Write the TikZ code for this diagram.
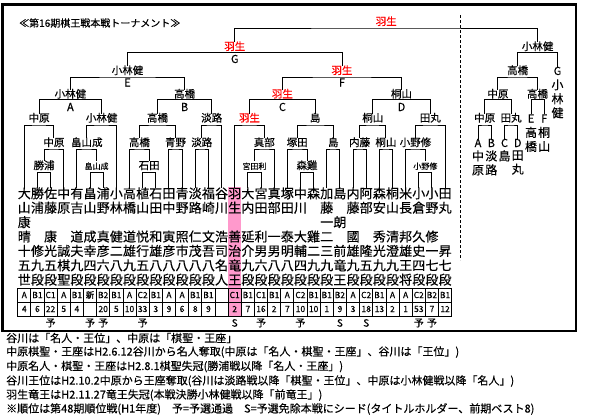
\documentclass[tikz,border=0pt]{standalone}
\usepackage{fontspec}
\setmainfont{Noto Sans CJK JP}[FakeBold=0.3]
\usetikzlibrary{positioning}
\definecolor{hlpink}{RGB}{255,153,204}

\begin{document}
\begin{tikzpicture}[x=1pt, y=-1pt,
  pl/.style={inner sep=0pt, text height=10pt, text depth=1.5pt, font=\fontsize{13}{13}\selectfont},
  win/.style={inner sep=0pt, text height=8pt, text depth=1.5pt, font=\fontsize{10.5}{11}\selectfont},
  winsm/.style={win, font=\fontsize{8}{9}\selectfont},
  hab/.style={win, text=red},
  letter/.style={inner sep=0pt, text height=8pt, text depth=0pt, font=\fontsize{11}{11}\selectfont},
  vtext/.style={inner sep=0pt, align=center, font=\fontsize{12}{14}\selectfont},
  cell/.style={inner sep=0pt, font=\fontsize{8.5}{9}\selectfont},
  tag/.style={inner sep=0pt, font=\fontsize{10}{10}\selectfont},
  note/.style={anchor=west, inner sep=0pt, font=\fontsize{11}{11}\selectfont},
  brk/.style={line width=1pt},
  tblline/.style={line width=0.8pt},
]
  \useasboundingbox (0,0) rectangle (590,415);
  \draw[line width=2.7pt] (2.5,4.5) rectangle (576,331);
  \node[anchor=west, inner sep=0pt, font=\fontsize{10}{10}\selectfont] (title) at (19,23) {≪第16期棋王戦本戦トーナメント≫};

  % highlighted column (Habu)
  \fill[hlpink] (228.1,186.5) rectangle (241.25,316);

  % player names, one column each
  \foreach \c [count=\i] in {大,勝,佐,中,有,畠,浦,小,高,植,石,田,青,淡,福,谷,羽,大,宮,真,塚,中,森,加,島,内,阿,森,桐,米,小,小,田}
    \node[pl] (a\i) at ({11.15+13.15*\i},194) {\c};
  \foreach \c [count=\i] in {山,浦,藤,原,吉,山,野,林,橋,山,田,中,野,路,崎,川,生,内,田,部,田,川,{},藤,{},藤,部,安,山,長,倉,野,丸}
    \node[pl] (b\i) at ({11.15+13.15*\i},208.4) {\c};
  \node[pl] (c1) at (24.3,222.8) {康};
  \node[pl] (c24) at (326.75,222.8) {一};
  \node[pl] (c25) at (339.9,222.8) {朗};
  \foreach \c [count=\i] in {晴,{},康,{},道,成,真,健,道,悦,和,寅,照,仁,文,浩,善,延,利,一,泰,大,雞,二,{},國,{},秀,清,邦,久,修,{}}
    \node[pl] (d\i) at ({11.15+13.15*\i},237.2) {\c};
  \foreach \c [count=\i] in {十,修,光,誠,夫,幸,彦,二,雄,行,雄,彦,市,茂,吾,司,治,介,男,男,明,輔,二,三,前,雄,隆,光,澄,雄,史,一,昇}
    \node[pl] (e\i) at ({11.15+13.15*\i},251.6) {\c};
  \foreach \c [count=\i] in {五,九,五,棋,九,四,六,八,九,五,八,八,八,八,八,名,竜,九,六,八,八,四,九,九,竜,九,五,九,九,王,四,七,七}
    \node[pl] (f\i) at ({11.15+13.15*\i},266) {\c};
  \foreach \c [count=\i] in {世,段,段,聖,段,段,段,段,段,段,段,段,段,段,段,人,王,段,段,段,段,段,段,段,王,段,段,段,段,将,段,段,段}
    \node[pl] (g\i) at ({11.15+13.15*\i},280.4) {\c};

  % class and rank table
  \foreach \c [count=\i] in {A,B1,C1,A,B1,新,B2,B1,A,C2,B1,A,A,B1,B1,{},C1,B1,C1,B1,A,C2,B1,B1,B2,A,C2,B1,A,A,C2,B2,B1}
    \node[cell] (cl\i) at ({11.15+13.15*\i},295) {\c};
  \foreach \c [count=\i] in {4,6,22,5,4,{},20,5,10,33,3,9,6,8,9,{},2,7,16,2,7,10,10,1,9,3,18,13,2,1,53,7,12}
    \node[cell] (rk\i) at ({11.15+13.15*\i},309) {\c};
  \draw[tblline] (17.7,288) rectangle (451.65,316);
  \draw[tblline] (17.7,302) -- (451.65,302);
  \foreach \i in {1,...,32}
    \draw[tblline] ({17.7+13.15*\i},288) -- ({17.7+13.15*\i},316);
  \foreach \i in {3,6,7,10,19,22,31,32}
    \node[tag] (y\i) at ({11.15+13.15*\i},323) {予};
  \foreach \i in {17,25,27}
    \node[tag] (s\i) at ({11.15+13.15*\i},323) {S};

  % winners' bracket labels
  \node[win] (w6a) at (44.0,166) {勝浦};
  \node[winsm] (w6b) at (96.6,166) {畠山成};
  \node[win] (w6c) at (149.2,166) {石田};
  \node[winsm] (w6d) at (254.4,166) {宮田利};
  \node[win] (w6e) at (307.0,166) {森雞};
  \node[winsm] (w6f) at (425.4,166) {小野修};

  \node[win] (w5a) at (53.9,143) {中原};
  \node[win] (w5b) at (86.8,143) {畠山成};
  \node[win] (w5c) at (139.4,143) {高橋};
  \node[win] (w5d) at (175.5,143) {青野};
  \node[win] (w5e) at (201.8,143) {淡路};
  \node[win] (w5f) at (264.3,143) {真部};
  \node[win] (w5g) at (297.2,143) {塚田};
  \node[win] (w5h) at (333.3,143) {島};
  \node[win] (w5i) at (359.6,143) {内藤};
  \node[win] (w5j) at (385.9,143) {桐山};
  \node[win] (w5k) at (415.5,143) {小野修};

  \node[win] (w4a) at (39.1,118.5) {中原};
  \node[win] (w4b) at (101.6,118.5) {小林健};
  \node[win] (w4c) at (157.5,118.5) {高橋};
  \node[win] (w4d) at (211.7,118.5) {淡路};
  \node[hab] (w4e) at (249.5,118.5) {羽生};
  \node[win] (w4f) at (315.2,118.5) {島};
  \node[win] (w4g) at (372.8,118.5) {桐山};
  \node[win] (w4h) at (430.3,118.5) {田丸};

  \node[win] (w3a) at (70.4,94.5) {小林健};
  \node[win] (w3b) at (184.6,94.5) {高橋};
  \node[hab] (w3c) at (282.4,94.5) {羽生};
  \node[win] (w3d) at (401.5,94.5) {桐山};

  \node[win] (w2a) at (127.5,71) {小林健};
  \node[hab] (w2b) at (342,71) {羽生};
  \node[hab] (w1) at (234.75,47) {羽生};
  \node[hab] (champ) at (386.2,22) {羽生};

  \node[letter] (tA) at (70.4,107) {A};
  \node[letter] (tB) at (184.6,107) {B};
  \node[letter] (tC) at (282.4,107) {C};
  \node[letter] (tD) at (401.5,107) {D};
  \node[letter] (tE) at (127.5,82.5) {E};
  \node[letter] (tF) at (342,82.5) {F};
  \node[letter] (tG) at (234.75,59) {G};

  % losers' bracket labels
  \node[win] (l1) at (537.6,47) {小林健};
  \node[win] (l2) at (517.7,71) {高橋};
  \node[win] (l3a) at (497.9,94.5) {中原};
  \node[win] (l3b) at (537.5,94.5) {高橋};
  \node[win] (l4a) at (484.7,118.5) {中原};
  \node[win] (l4b) at (511.1,118.5) {田丸};
  \node[letter] (lA) at (478,143) {A};
  \node[letter] (lB) at (491.3,143) {B};
  \node[letter] (lC) at (504.5,143) {C};
  \node[letter] (lD) at (517.7,143) {D};
  \node[letter] (lE) at (531,118.5) {E};
  \node[letter] (lF) at (544.2,118.5) {F};
  \node[letter] (lG) at (557.5,71) {G};
  \node[vtext, below=3pt of lA] (lAt) {中\\原};
  \node[vtext, below=3pt of lB] (lBt) {淡\\路};
  \node[vtext, below=3pt of lC] (lCt) {島};
  \node[vtext, below=3pt of lD] (lDt) {田\\丸};
  \node[vtext, below=4pt of lE] (lEt) {高\\橋};
  \node[vtext, below=4pt of lF] (lFt) {桐\\山};
  \node[vtext, below=4pt of lG] (lGt) {小\\林\\健};

  % first round
  \coordinate (m6a) at (44.0,172.5);  \draw[brk] (a2.north) |- (m6a) -| (a3.north);
  \coordinate (m6b) at (96.6,172.5);  \draw[brk] (a6.north) |- (m6b) -| (a7.north);
  \coordinate (m6c) at (149.2,172.5); \draw[brk] (a10.north) |- (m6c) -| (a11.north);
  \coordinate (m6d) at (254.4,172.5); \draw[brk] (a18.north) |- (m6d) -| (a19.north);
  \coordinate (m6e) at (307.0,172.5); \draw[brk] (a22.north) |- (m6e) -| (a23.north);
  \coordinate (m6f) at (425.4,172.5); \draw[brk] (a31.north) |- (m6f) -| (a32.north);

  \coordinate (m5a) at (53.9,149);  \draw[brk] (w6a.north) |- (m5a) -| (a4.north);
  \coordinate (m5b) at (86.8,149);  \draw[brk] (a5.north) |- (m5b) -| (w6b.north);
  \coordinate (m5c) at (139.4,149); \draw[brk] (a9.north) |- (m5c) -| (w6c.north);
  \coordinate (m5d) at (175.5,149); \draw[brk] (a12.north) |- (m5d) -| (a13.north);
  \coordinate (m5e) at (201.8,149); \draw[brk] (a14.north) |- (m5e) -| (a15.north);
  \coordinate (m5f) at (264.3,149); \draw[brk] (w6d.north) |- (m5f) -| (a20.north);
  \coordinate (m5g) at (297.2,149); \draw[brk] (a21.north) |- (m5g) -| (w6e.north);
  \coordinate (m5h) at (333.3,149); \draw[brk] (a24.north) |- (m5h) -| (a25.north);
  \coordinate (m5i) at (359.6,149); \draw[brk] (a26.north) |- (m5i) -| (a27.north);
  \coordinate (m5j) at (385.9,149); \draw[brk] (a28.north) |- (m5j) -| (a29.north);
  \coordinate (m5k) at (415.5,149); \draw[brk] (a30.north) |- (m5k) -| (w6f.north);

  \coordinate (m4a) at (39.1,125);  \draw[brk] (a1.north) |- (m4a) -| (w5a.north);
  \coordinate (m4b) at (101.6,125); \draw[brk] (w5b.north) |- (m4b) -| (a8.north);
  \coordinate (m4c) at (157.5,125); \draw[brk] (w5c.north) |- (m4c) -| (w5d.north);
  \coordinate (m4d) at (211.7,125); \draw[brk] (w5e.north) |- (m4d) -| (a16.north);
  \coordinate (m4e) at (249.5,125); \draw[brk] (a17.north) |- (m4e) -| (w5f.north);
  \coordinate (m4f) at (315.2,125); \draw[brk] (w5g.north) |- (m4f) -| (w5h.north);
  \coordinate (m4g) at (372.8,125); \draw[brk] (w5i.north) |- (m4g) -| (w5j.north);
  \coordinate (m4h) at (430.3,125); \draw[brk] (w5k.north) |- (m4h) -| (a33.north);

  \coordinate (m3a) at (70.4,99.5);  \draw[brk] (w4a.north) |- (m3a) -| (w4b.north);
  \coordinate (m3b) at (184.6,99.5); \draw[brk] (w4c.north) |- (m3b) -| (w4d.north);
  \coordinate (m3c) at (282.4,99.5); \draw[brk] (w4e.north) |- (m3c) -| (w4f.north);
  \coordinate (m3d) at (401.5,99.5); \draw[brk] (w4g.north) |- (m3d) -| (w4h.north);

  \coordinate (m2a) at (127.5,77); \draw[brk] (w3a.north) |- (m2a) -| (w3b.north);
  \coordinate (m2b) at (342,77);   \draw[brk] (w3c.north) |- (m2b) -| (w3d.north);
  \coordinate (m1) at (234.75,52.5); \draw[brk] (w2a.north) |- (m1) -| (w2b.north);

  % final
  \coordinate (m0) at (386.2,28); \draw[brk] (w1.north) |- (m0) -| (l1.north);

  % losers' side
  \coordinate (n1) at (537.6,52.5);  \draw[brk] (l2.north) |- (n1) -| (lG.north);
  \coordinate (n2) at (517.7,77);    \draw[brk] (l3a.north) |- (n2) -| (l3b.north);
  \coordinate (n3a) at (497.9,99.5); \draw[brk] (l4a.north) |- (n3a) -| (l4b.north);
  \coordinate (n3b) at (537.5,99.5); \draw[brk] (lE.north) |- (n3b) -| (lF.north);
  \coordinate (n4a) at (484.7,125);  \draw[brk] (lA.north) |- (n4a) -| (lB.north);
  \coordinate (n4b) at (511.1,125);  \draw[brk] (lC.north) |- (n4b) -| (lD.north);

  \coordinate (dtop) at (460,15);
  \coordinate (dbot) at (460,260);
  \draw[dash pattern=on 3pt off 2pt, line width=0.9pt] (dtop) -- (dbot);

  % notes under the frame
  \node[note] (note1) at (6,338) {谷川は「名人・王位」、中原は「棋聖・王座」};
  \node[note] (note2) at (6,352) {中原棋聖・王座はH2.6.12谷川から名人奪取(中原は「名人・棋聖・王座」、谷川は「王位」)};
  \node[note] (note3) at (6,366.5) {中原名人・棋聖・王座はH2.8.1棋聖失冠(勝浦戦以降「名人・王座」)};
  \node[note] (note4) at (6,381) {谷川王位はH2.10.2中原から王座奪取(谷川は淡路戦以降「棋聖・王位」、中原は小林健戦以降「名人」)};
  \node[note] (note5) at (6,395) {羽生竜王はH2.11.27竜王失冠(本戦決勝小林健戦以降「前竜王」)};
  \node[note] (note6) at (6,409) {※順位は第48期順位戦(H1年度)　予=予選通過　S=予選免除本戦にシード(タイトルホルダー、前期ベスト8)};
\end{tikzpicture}
\end{document}
